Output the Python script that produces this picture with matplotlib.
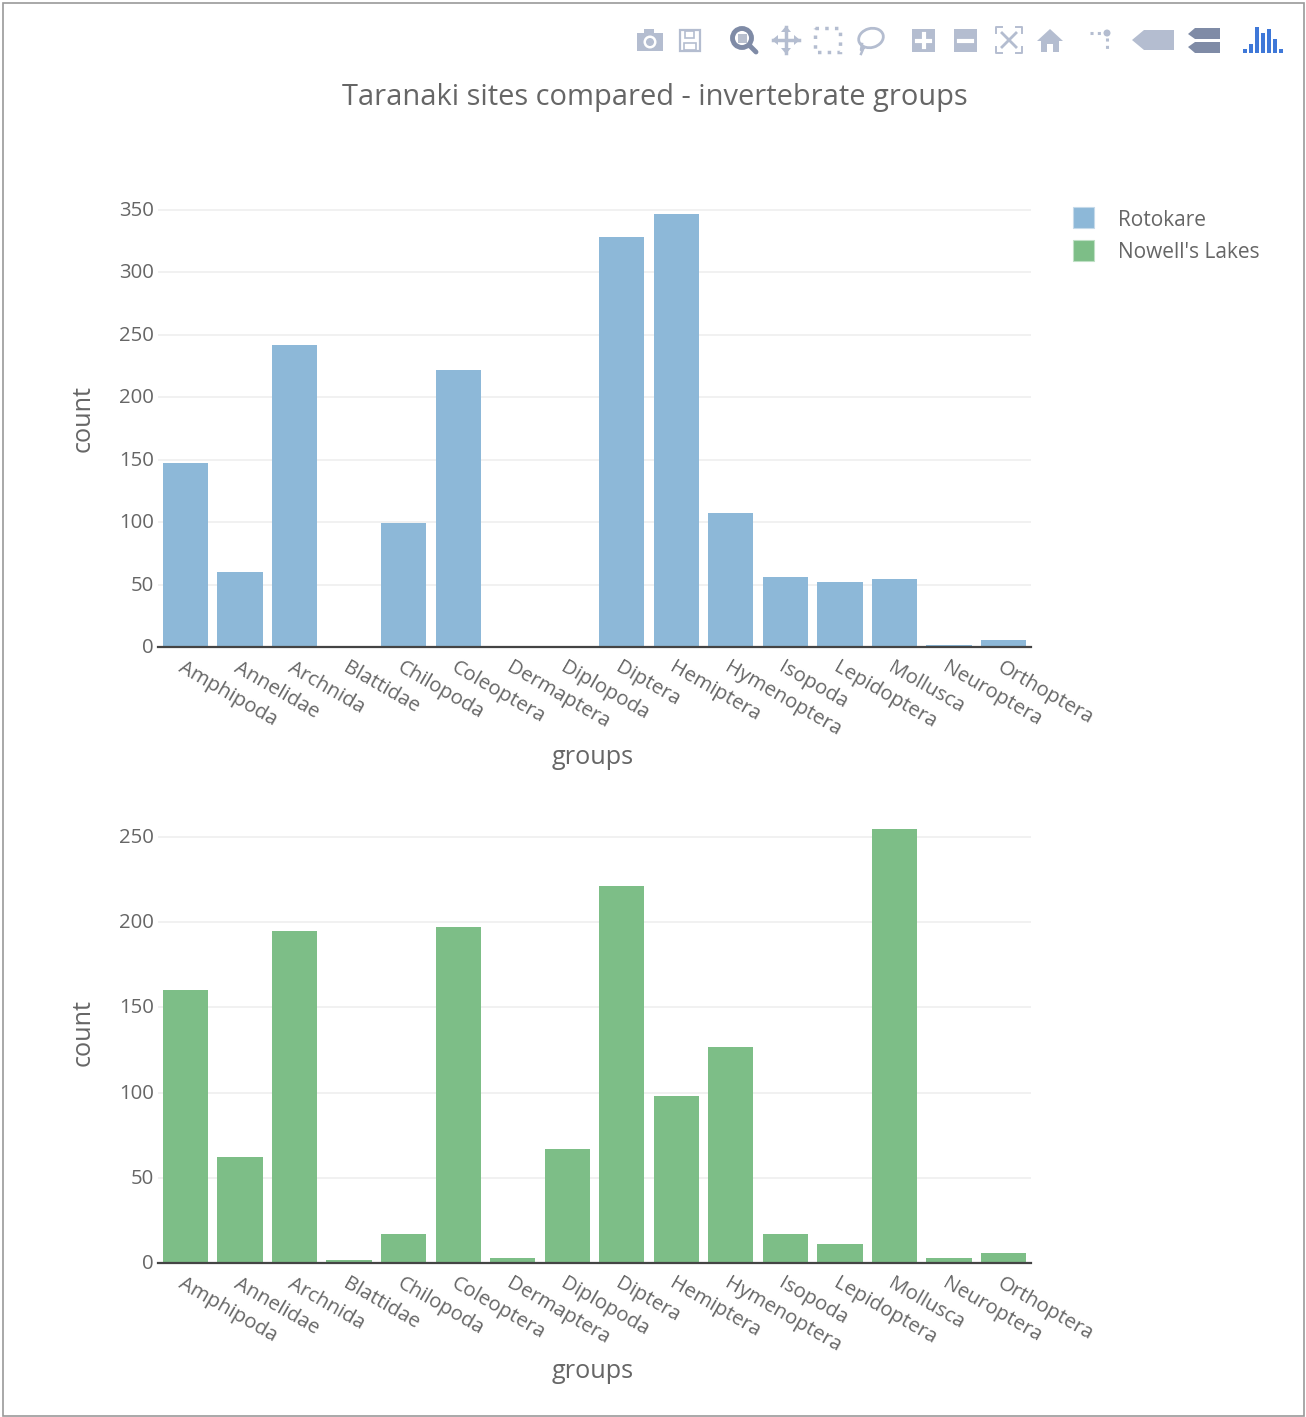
# Taranaki invertebrate groups, two stacked bar panels

from matplotlib import pyplot as plt
from matplotlib.patches import Rectangle, Circle, Polygon, Ellipse
from matplotlib.transforms import ScaledTranslation

groups = ["Amphipoda", "Annelidae", "Archnida", "Blattidae", "Chilopoda", "Coleoptera",
          "Dermaptera", "Diplopoda", "Diptera", "Hemiptera", "Hymenoptera", "Isopoda",
          "Lepidoptera", "Mollusca", "Neuroptera", "Orthoptera"]
rotokare = [147, 60, 242, 0, 99, 222, 0, 0, 328, 347, 107, 56, 52, 54.5, 2, 6]
nowells = [160, 62, 195, 2, 17, 197, 3, 67, 221, 98, 127, 17, 11, 254.5, 3, 6]
top_ticks = [0, 50, 100, 150, 200, 250, 300, 350]
bottom_ticks = [0, 50, 100, 150, 200, 250]

W, H = 1306, 1417
BLUE = "#8db8d8"
GREEN = "#7dbe87"
TEXT = "#666666"
GRID = "#eeeeee"
ICON = "#b4bdd0"
ICON_DARK = "#7f8ba6"

plt.rcParams["font.family"] = ["Open Sans", "DejaVu Sans"]

fig = plt.figure(figsize=(W / 100, H / 100), dpi=100)


def px_axes(left, top, right, bottom):
    return fig.add_axes([left / W, 1 - bottom / H, (right - left) / W, (bottom - top) / H])


def draw_panel(ax, values, color, ticks, ymax):
    x = list(range(len(groups)))
    ax.bar(x, values, width=0.83, color=color, zorder=3)
    ax.set_xlim(-0.5, 15.5)
    ax.set_ylim(0, ymax)
    ax.set_yticks(ticks)
    ax.set_xticks(x)
    ax.set_xticklabels(groups, rotation=-30, ha="left", va="top",
                       rotation_mode="anchor", fontsize=14.7, color=TEXT)
    ax.tick_params(axis="x", length=0, pad=8)
    ax.tick_params(axis="y", length=0, pad=3, labelsize=14.7, labelcolor=TEXT)
    ax.grid(axis="y", color=GRID, linewidth=1.1, zorder=0)
    ax.set_axisbelow(True)
    for side in ["top", "right", "left"]:
        ax.spines[side].set_visible(False)
    ax.spines["bottom"].set_color("#444444")
    ax.spines["bottom"].set_linewidth(1.6)
    ax.spines["bottom"].set_zorder(5)
    # y labels sit a touch above their gridlines
    nudge = ScaledTranslation(0, 1.5 / 100, fig.dpi_scale_trans)
    for lab in ax.get_yticklabels():
        lab.set_transform(lab.get_transform() + nudge)


top_ax = px_axes(158.2, 192, 1030.8, 647)
draw_panel(top_ax, rotokare, BLUE, top_ticks, 364.4)
bottom_ax = px_axes(158.2, 806, 1030.8, 1263)
draw_panel(bottom_ax, nowells, GREEN, bottom_ticks, 268.2)

# overlay for title, axis titles, legend, frame and the modebar
over = fig.add_axes([0, 0, 1, 1], zorder=10)
over.set_xlim(0, W)
over.set_ylim(H, 0)
over.axis("off")
over.patch.set_alpha(0)

over.add_patch(Rectangle((2.5, 2.5), W - 4.5, H - 4, fill=False, edgecolor="#9a9a9a", linewidth=1.2))

over.text(654.5, 97.5, "Taranaki sites compared - invertebrate groups", ha="center", va="center",
          fontsize=20.9, color=TEXT)
for y_title, y_group in [(419, 758), (1033, 1372)]:
    over.text(83, y_title, "count", rotation=90, ha="center", va="center", fontsize=18.2, color=TEXT)
    over.text(593, y_group, "groups", ha="center", va="center", fontsize=18.2, color=TEXT)

# legend
over.add_patch(Rectangle((1073, 207), 21, 21, facecolor=BLUE, edgecolor="#c5daea", linewidth=0.8))
over.add_patch(Rectangle((1073, 240), 21, 21, facecolor=GREEN, edgecolor="#bfe0c5", linewidth=0.8))
over.text(1118, 220, "Rotokare", va="center", fontsize=15, color=TEXT)
over.text(1118, 253, "Nowell's Lakes", va="center", fontsize=15, color=TEXT)

# modebar: camera
over.add_patch(Rectangle((637, 33), 26, 18, facecolor=ICON, edgecolor="none"))
over.add_patch(Rectangle((644, 29), 10, 5, facecolor=ICON, edgecolor="none"))
over.add_patch(Circle((650, 42), 6.5, facecolor="white", edgecolor="none"))
over.add_patch(Circle((650, 42), 4, facecolor=ICON, edgecolor="none"))
# save
over.add_patch(Rectangle((680, 30), 20, 21, fill=False, edgecolor=ICON, linewidth=1.6))
over.add_patch(Rectangle((685, 31), 9, 7, fill=False, edgecolor=ICON, linewidth=1.2))
over.add_patch(Rectangle((684, 43), 12, 7, fill=False, edgecolor=ICON, linewidth=1.2))
# zoom
over.add_patch(Circle((742, 38), 9.5, fill=False, edgecolor=ICON_DARK, linewidth=3.5))
over.add_patch(Rectangle((737.5, 33.5), 9, 9, facecolor=ICON_DARK, edgecolor="none", alpha=0.55))
over.plot([749, 756], [45, 52], color=ICON_DARK, lw=3.5, solid_capstyle="round")
# pan
over.plot([773, 799], [40, 40], color=ICON, lw=2.5)
over.plot([786, 786], [27, 53], color=ICON, lw=2.5)
for pts in [[(786, 26), (781, 32), (791, 32)], [(786, 54), (781, 48), (791, 48)],
            [(772, 40), (778, 35), (778, 45)], [(800, 40), (794, 35), (794, 45)]]:
    over.add_patch(Polygon(pts, facecolor=ICON, edgecolor="none"))
# box and lasso select
over.add_patch(Rectangle((815, 28), 25, 24, fill=False, edgecolor=ICON, linewidth=2.5, linestyle=(0, (1, 1.8))))
over.add_patch(Ellipse((871, 38), 25, 19, angle=-15, fill=False, edgecolor=ICON, linewidth=2))
over.plot([862, 861, 864, 861], [44, 50, 47, 54], color=ICON, lw=1.8)
# zoom in and out
over.add_patch(Rectangle((912, 29), 23, 23, facecolor=ICON, edgecolor="none"))
over.plot([917, 930], [40.5, 40.5], color="white", lw=3)
over.plot([923.5, 923.5], [34, 47], color="white", lw=3)
over.add_patch(Rectangle((954, 29), 23, 23, facecolor=ICON, edgecolor="none"))
over.plot([959, 972], [40.5, 40.5], color="white", lw=3)
# autoscale
for xs, ys in [([996, 996, 1002], [33, 27, 27]), ([1016, 1022, 1022], [27, 27, 33]),
               ([996, 996, 1002], [47, 53, 53]), ([1016, 1022, 1022], [53, 53, 47])]:
    over.plot(xs, ys, color=ICON, lw=1.4)
over.plot([1002, 1016], [33, 47], color=ICON, lw=2)
over.plot([1002, 1016], [47, 33], color=ICON, lw=2)
# home
over.add_patch(Polygon([(1037, 41), (1050, 29), (1063, 41), (1059, 41), (1059, 52), (1053, 52),
                        (1053, 44), (1047, 44), (1047, 52), (1041, 52), (1041, 41)],
                       facecolor=ICON, edgecolor="none"))
# spike lines
over.add_patch(Circle((1107, 33), 3.5, facecolor=ICON, edgecolor="none"))
over.plot([1090, 1101], [33, 33], color=ICON, lw=2.2, linestyle=(0, (1, 1.4)))
over.plot([1107, 1107], [38, 50], color=ICON, lw=2.2, linestyle=(0, (1, 1.4)))
# hover labels
over.add_patch(Polygon([(1132, 40), (1144, 30), (1174, 30), (1174, 50), (1144, 50)],
                       facecolor=ICON, edgecolor="none"))
over.add_patch(Polygon([(1188, 34), (1195, 28), (1220, 28), (1220, 39), (1195, 39)],
                       facecolor=ICON_DARK, edgecolor="none"))
over.add_patch(Polygon([(1188, 47), (1195, 42), (1220, 42), (1220, 53), (1195, 53)],
                       facecolor=ICON_DARK, edgecolor="none"))
# plotly logo bars
logo_x = [1243, 1249, 1255, 1261, 1267, 1273, 1279]
logo_h = [4, 9, 26, 20, 24, 14, 4]
for lx, lh in zip(logo_x, logo_h):
    over.add_patch(Rectangle((lx, 53 - lh), 4.3, lh, facecolor="#3f78d8", edgecolor="none"))

plt.savefig("out.png", dpi=100)
print("Plotting... done.  out.png")
